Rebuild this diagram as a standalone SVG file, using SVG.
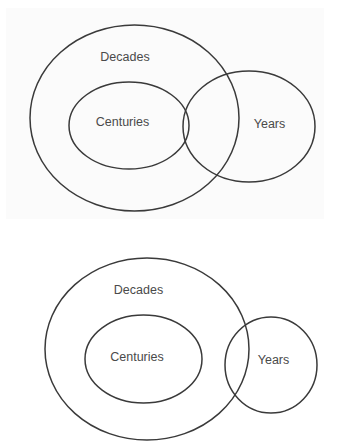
<svg xmlns="http://www.w3.org/2000/svg" width="340" height="441" viewBox="0 0 340 441">
  <style>
    .set { fill: none; stroke: #3a3a3a; stroke-width: 1.5; }
    .lbl { font-family: "Liberation Sans", Arial, sans-serif; font-size: 12.5px; fill: #4a4a4a; text-anchor: middle; dominant-baseline: central; }
  </style>
  <rect x="0" y="0" width="340" height="441" fill="#ffffff"/>
  <rect x="6" y="8" width="318" height="211" fill="#fbfbfb"/>
  <g id="top">
    <g id="top-decades">
      <ellipse class="set" cx="134.5" cy="118" rx="104.5" ry="93"/>
      <text class="lbl" x="125" y="57">Decades</text>
    </g>
    <g id="top-centuries">
      <ellipse class="set" cx="129" cy="125.5" rx="60" ry="43.5"/>
      <text class="lbl" x="122.5" y="122">Centuries</text>
    </g>
    <g id="top-years">
      <ellipse class="set" cx="249" cy="126.5" rx="66" ry="55.5"/>
      <text class="lbl" x="269.5" y="124">Years</text>
    </g>
  </g>
  <g id="bottom">
    <g id="bottom-decades">
      <ellipse class="set" cx="147" cy="349" rx="102" ry="91"/>
      <text class="lbl" x="138.5" y="290">Decades</text>
    </g>
    <g id="bottom-centuries">
      <ellipse class="set" cx="143.5" cy="359" rx="58.5" ry="44"/>
      <text class="lbl" x="137" y="357">Centuries</text>
    </g>
    <g id="bottom-years">
      <ellipse class="set" cx="271" cy="365" rx="46" ry="48"/>
      <text class="lbl" x="273.5" y="360">Years</text>
    </g>
  </g>
  <g id="connectors"/>
</svg>
